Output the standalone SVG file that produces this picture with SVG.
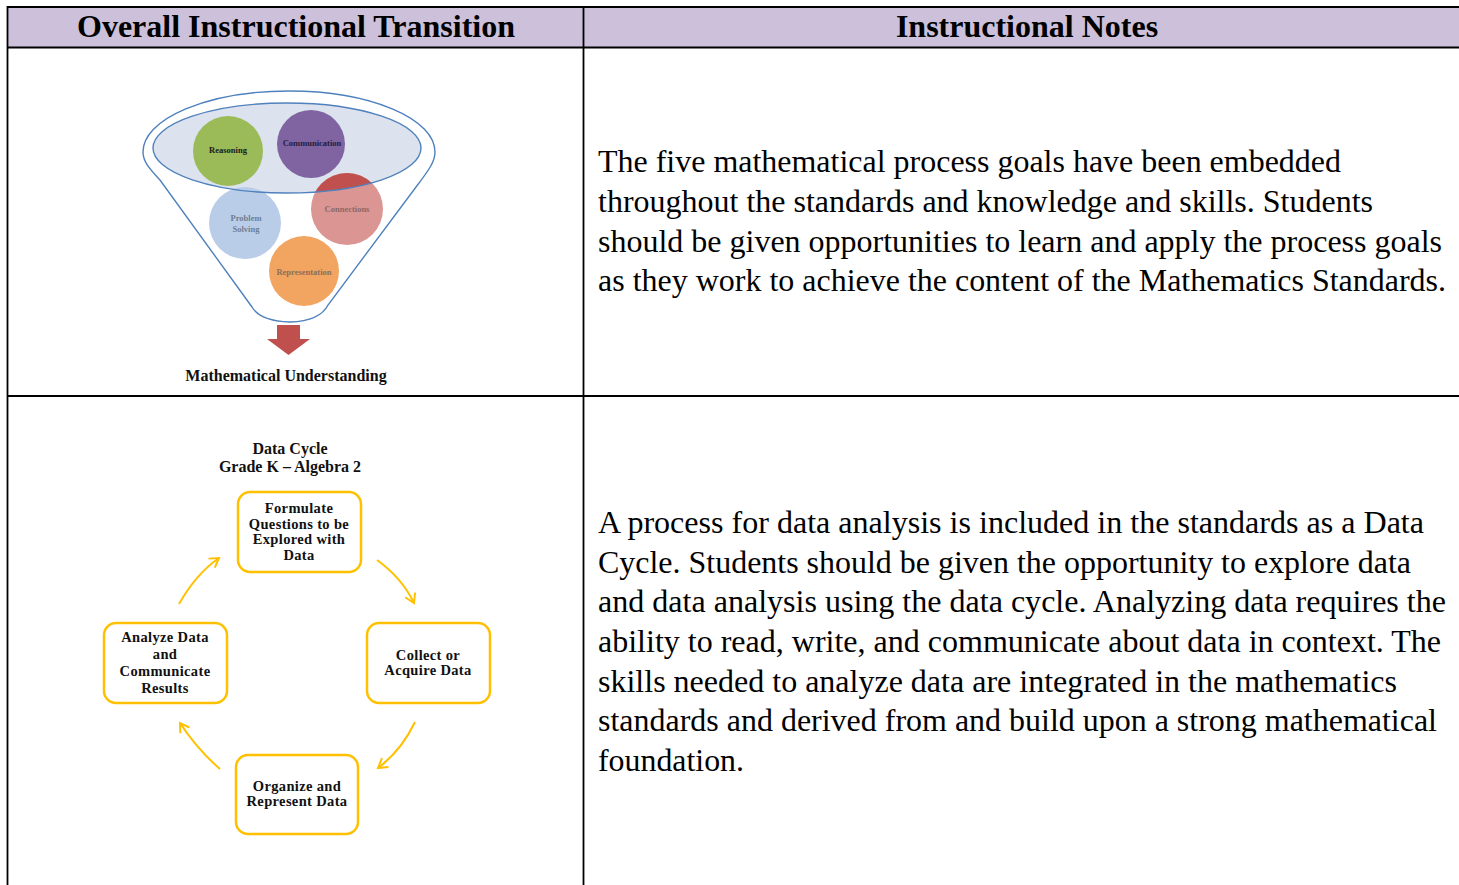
<svg xmlns="http://www.w3.org/2000/svg" width="1459" height="885" viewBox="0 0 1459 885">
<style>
.grid{stroke:#000;stroke-width:1.8;fill:none}
.hdr{font-family:"Liberation Serif","Times New Roman",serif;font-weight:bold;font-size:32px;fill:#000;text-anchor:middle}
.body{font-family:"Liberation Serif","Times New Roman",serif;font-size:31.5px;fill:#000}
.ttl{font-family:"Liberation Serif","Times New Roman",serif;font-weight:bold;font-size:16px;fill:#111;text-anchor:middle}
.box{fill:#fff;stroke:#FFC000;stroke-width:2.5}
.bt{font-family:"Liberation Serif","Times New Roman",serif;font-weight:bold;font-size:14.5px;letter-spacing:0.35px;fill:#111;text-anchor:middle}
.arr{fill:none;stroke:#FFC000;stroke-width:2}
.ct{font-family:"Liberation Serif","Times New Roman",serif;font-weight:bold;font-size:8.5px;text-anchor:middle}
.fun{stroke:#4F81BD;stroke-width:1.4}
</style>
<defs>
<marker id="chev" markerUnits="userSpaceOnUse" markerWidth="16" markerHeight="16" refX="10" refY="6" orient="auto">
<path d="M1,0.5 L10,6 L1,11.5" fill="none" stroke="#FFC000" stroke-width="2"/>
</marker>
<clipPath id="ellClip"><ellipse cx="287" cy="148" rx="134" ry="45"/></clipPath>
</defs>

<rect x="0" y="0" width="1459" height="885" fill="#fff"/>

<g id="table">
<rect x="7.5" y="7.5" width="1452" height="40" fill="#CCC0DA"/>
<line class="grid" x1="7.5" y1="7" x2="1459" y2="7"/>
<line class="grid" x1="7.5" y1="47.5" x2="1459" y2="47.5"/>
<line class="grid" x1="7.5" y1="396" x2="1459" y2="396"/>
<line class="grid" x1="7.5" y1="6" x2="7.5" y2="885"/>
<line class="grid" x1="583.5" y1="6" x2="583.5" y2="885"/>
<text class="hdr" x="296" y="37">Overall Instructional Transition</text>
<text class="hdr" x="1027" y="37">Instructional Notes</text>
</g>

<g id="funnel">
<path class="fun" fill="#fff" d="M143,152 A146,61 0 0 1 435,152 C435,162 428,171 419,183 L328,305 Q320,321 290,322 Q260,321 252,307 L160,180 C150,169 143,162 143,152 Z"/>
<ellipse cx="287" cy="148" rx="134" ry="45" fill="#DCE3EE"/>
<circle cx="245" cy="223" r="36" fill="#B9CDE8"/>
<circle cx="347" cy="209" r="36" fill="#DB9593"/>
<circle cx="347" cy="209" r="36" fill="#C0504D" clip-path="url(#ellClip)"/>
<circle cx="304" cy="271" r="35" fill="#F2A560"/>
<circle cx="228" cy="151" r="35" fill="#9BBB59"/>
<circle cx="311" cy="144" r="34" fill="#8064A2"/>
<ellipse cx="287" cy="148" rx="134" ry="45" fill="none" class="fun"/>
<text class="ct" x="228" y="153" fill="#1a1a1a">Reasoning</text>
<text class="ct" x="312" y="146" fill="#1f1d3a">Communication</text>
<text class="ct" x="246" y="221" fill="#6F7D92">Problem</text>
<text class="ct" x="246" y="232" fill="#6F7D92">Solving</text>
<text class="ct" x="347" y="212" fill="#8C6868">Connections</text>
<text class="ct" x="304" y="275" fill="#8C6E5A">Representation</text>
<polygon points="277,325 300,325 300,339 310,339 288.5,355 267,339 277,339" fill="#C0504D"/>
<text class="ttl" x="286" y="381">Mathematical Understanding</text>
</g>

<g id="cycle-title">
<text class="ttl" x="290" y="454">Data Cycle</text>
<text class="ttl" x="290" y="472">Grade K – Algebra 2</text>
</g>

<g id="node-formulate">
<rect class="box" x="238" y="492" width="123" height="80" rx="12"/>
<text class="bt" x="299" y="513">Formulate</text>
<text class="bt" x="299" y="529">Questions to be</text>
<text class="bt" x="299" y="544">Explored with</text>
<text class="bt" x="299" y="560">Data</text>
</g>
<g id="node-collect">
<rect class="box" x="367" y="623" width="123" height="80" rx="12"/>
<text class="bt" x="428" y="660">Collect or</text>
<text class="bt" x="428" y="675">Acquire Data</text>
</g>
<g id="node-organize">
<rect class="box" x="236" y="755" width="122" height="79" rx="12"/>
<text class="bt" x="297" y="791">Organize and</text>
<text class="bt" x="297" y="806">Represent Data</text>
</g>
<g id="node-analyze">
<rect class="box" x="104" y="623" width="123" height="80" rx="12"/>
<text class="bt" x="165" y="642">Analyze Data</text>
<text class="bt" x="165" y="659">and</text>
<text class="bt" x="165" y="676">Communicate</text>
<text class="bt" x="165" y="693">Results</text>
</g>

<g id="connectors">
<path class="arr" d="M377,560 Q402,578 414,603" marker-end="url(#chev)"/>
<path class="arr" d="M415,722 Q401,751 378,768" marker-end="url(#chev)"/>
<path class="arr" d="M220,769 Q197,749 180,723" marker-end="url(#chev)"/>
<path class="arr" d="M179,604 Q196,574 219,558" marker-end="url(#chev)"/>
</g>

<g id="notes">
<text class="body" x="598" y="172" textLength="743" lengthAdjust="spacingAndGlyphs">The five mathematical process goals have been embedded</text>
<text class="body" x="598" y="212" textLength="775" lengthAdjust="spacingAndGlyphs">throughout the standards and knowledge and skills. Students</text>
<text class="body" x="598" y="252" textLength="844" lengthAdjust="spacingAndGlyphs">should be given opportunities to learn and apply the process goals</text>
<text class="body" x="598" y="291" textLength="848" lengthAdjust="spacingAndGlyphs">as they work to achieve the content of the Mathematics Standards.</text>
<text class="body" x="598" y="533" textLength="826" lengthAdjust="spacingAndGlyphs">A process for data analysis is included in the standards as a Data</text>
<text class="body" x="598" y="573" textLength="813" lengthAdjust="spacingAndGlyphs">Cycle. Students should be given the opportunity to explore data</text>
<text class="body" x="598" y="612" textLength="848" lengthAdjust="spacingAndGlyphs">and data analysis using the data cycle. Analyzing data requires the</text>
<text class="body" x="598" y="652" textLength="843" lengthAdjust="spacingAndGlyphs">ability to read, write, and communicate about data in context. The</text>
<text class="body" x="598" y="692" textLength="799" lengthAdjust="spacingAndGlyphs">skills needed to analyze data are integrated in the mathematics</text>
<text class="body" x="598" y="731" textLength="839" lengthAdjust="spacingAndGlyphs">standards and derived from and build upon a strong mathematical</text>
<text class="body" x="598" y="771" textLength="146" lengthAdjust="spacingAndGlyphs">foundation.</text>
</g>
</svg>
